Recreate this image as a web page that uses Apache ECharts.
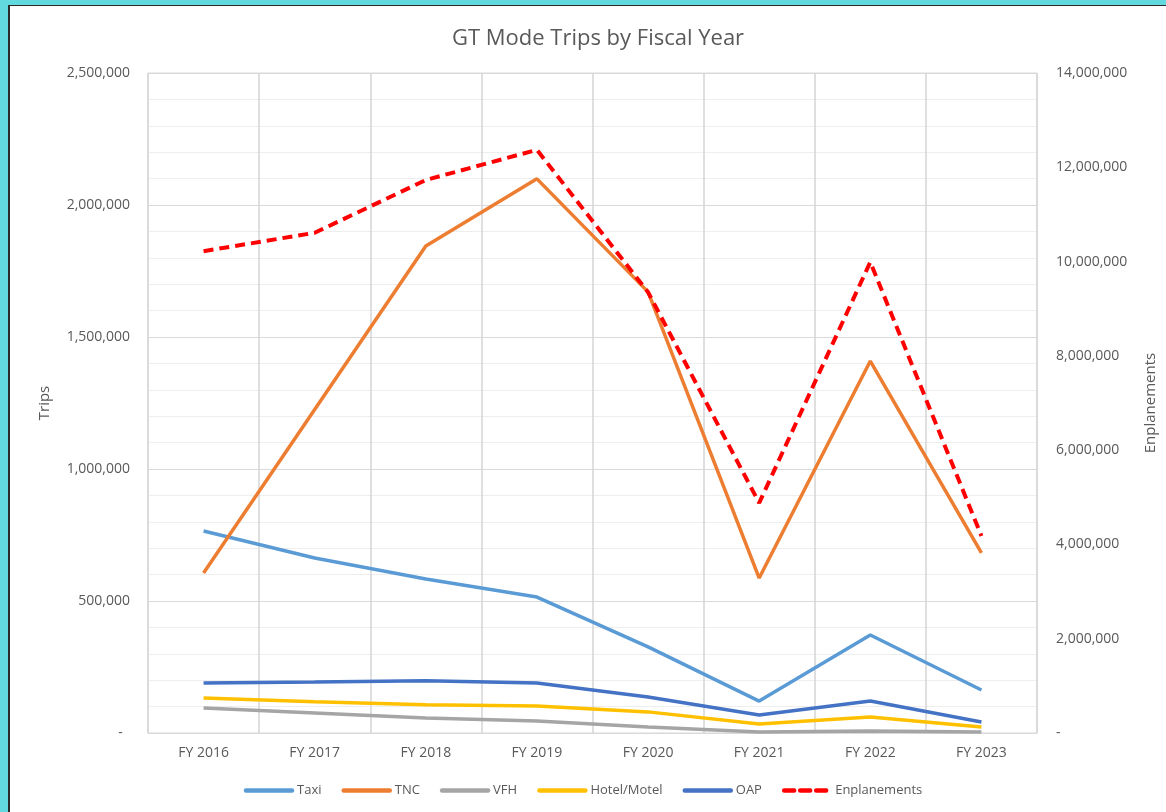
<!DOCTYPE html>
<html>
<head>
<meta charset="utf-8">
<script src="https://cdn.jsdelivr.net/npm/echarts@6/dist/echarts.min.js"></script>
<style>
  html, body { margin: 0; padding: 0; background: #fff; }
  #chart { position: absolute; left: 0; top: 0; width: 1166px; height: 812px; }
  .edge { position: absolute; pointer-events: none; }
</style>
</head>
<body>
<div id="chart"></div>
<div class="edge" style="left:0;top:0;width:8px;height:812px;background:#62d9df"></div>
<div class="edge" style="left:0;top:0;width:1166px;height:5px;background:#62d9df"></div>
<div class="edge" style="left:8px;top:5px;width:2px;height:807px;background:#2b2b2b"></div>
<div class="edge" style="left:8px;top:5px;width:1158px;height:1px;background:#2b2b2b"></div>
<script>
// fiscal years on the x axis
const years = ['FY 2016', 'FY 2017', 'FY 2018', 'FY 2019', 'FY 2020', 'FY 2021', 'FY 2022', 'FY 2023'];

// trips per mode (left axis)
const taxi = [765000, 663000, 583000, 515000, 326000, 121000, 371000, 163000];
const tnc = [606000, 1225000, 1845000, 2099000, 1671000, 587000, 1409000, 682000];
const vfh = [95000, 76000, 57000, 45000, 23000, 4000, 8000, 4000];
const hotelMotel = [133000, 118000, 107000, 102000, 80000, 34000, 61000, 23000];
const oap = [189000, 193000, 198000, 189000, 136000, 68000, 121000, 42000];

// enplanements (right axis)
const enplanements = [10220000, 10610000, 11730000, 12370000, 9350000, 4880000, 9990000, 4180000];

const txt = '#595959';
const font = '"Open Sans", "Liberation Sans", sans-serif';

function line(name, data, color, extra) {
  return Object.assign({
    name, type: 'line', data, symbol: 'none', smooth: false,
    lineStyle: { color, width: 3.5 }, itemStyle: { color }
  }, extra || {});
}

const chart = echarts.init(document.getElementById('chart'));
chart.setOption({
  backgroundColor: '#fff',
  animation: false,
  textStyle: { fontFamily: font },
  title: {
    text: 'GT Mode Trips by Fiscal Year',
    left: 593, top: 23, textAlign: 'center',
    textStyle: { color: txt, fontSize: 22, fontWeight: 'normal', fontFamily: font }
  },
  grid: { left: 148, right: 129, top: 73, bottom: 79, show: true, borderColor: '#d9d9d9', borderWidth: 1 },
  legend: {
    bottom: 10, left: 'center', itemWidth: 46, itemHeight: 6, itemGap: 20,
    textStyle: { color: txt, fontSize: 13, fontFamily: font },
    lineStyle: { width: 4.5, cap: 'round' },
    itemStyle: { opacity: 0 },
    data: ['Taxi', 'TNC', 'VFH', 'Hotel/Motel', 'OAP', 'Enplanements']
  },
  xAxis: {
    type: 'category', data: years, boundaryGap: true,
    axisLine: { lineStyle: { color: '#d9d9d9' } },
    axisTick: { show: false },
    axisLabel: { color: txt, fontSize: 14, margin: 13 },
    splitLine: { show: true, lineStyle: { color: '#d4d4d4', width: 1.5 } }
  },
  yAxis: [
    {
      type: 'value', min: 0, max: 2500000, interval: 500000,
      name: 'Trips', nameLocation: 'middle', nameRotate: 90, nameGap: 96,
      nameTextStyle: { color: txt, fontSize: 15 },
      axisLine: { show: false }, axisTick: { show: false },
      axisLabel: { color: txt, fontSize: 14, margin: 18, formatter: v => v === 0 ? '-  ' : v.toLocaleString('en-US') },
      splitLine: { lineStyle: { color: '#d9d9d9', width: 1.2 } },
      minorTick: { show: false, splitNumber: 5 },
      minorSplitLine: { show: true, lineStyle: { color: '#eeeeee', width: 1 } }
    },
    {
      type: 'value', min: 0, max: 14000000, interval: 2000000, position: 'right',
      name: 'Enplanements', nameLocation: 'middle', nameRotate: 90, nameGap: 106,
      nameTextStyle: { color: txt, fontSize: 15 },
      axisLine: { show: false }, axisTick: { show: false },
      axisLabel: { color: txt, fontSize: 14, margin: 19, formatter: v => v === 0 ? '-' : v.toLocaleString('en-US') },
      splitLine: { show: false }
    }
  ],
  series: [
    line('Taxi', taxi, '#5b9bd5'),
    line('TNC', tnc, '#ed7d31'),
    line('VFH', vfh, '#a5a5a5'),
    line('Hotel/Motel', hotelMotel, '#ffc000'),
    line('OAP', oap, '#4472c4'),
    line('Enplanements', enplanements, '#ff0000', {
      yAxisIndex: 1,
      lineStyle: { color: '#ff0000', width: 4, type: [10, 6] }
    })
  ]
});
</script>
</body>
</html>
